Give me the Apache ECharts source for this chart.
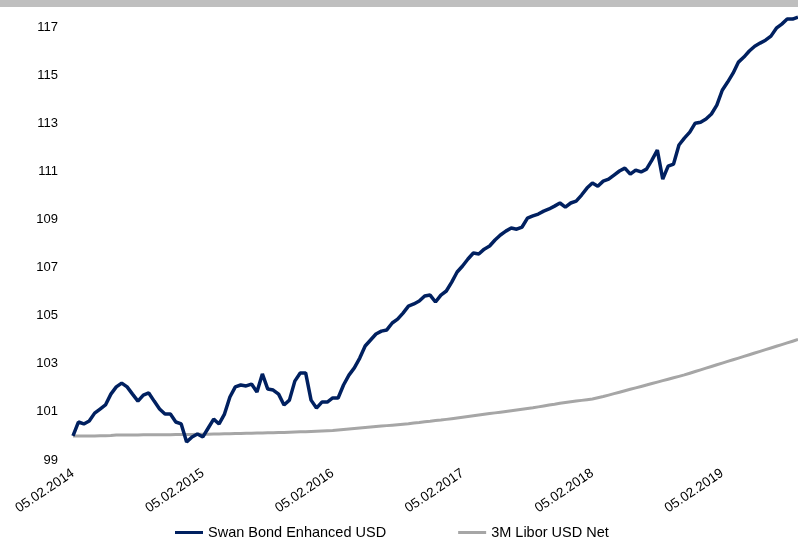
<!DOCTYPE html>
<html>
<head>
<meta charset="utf-8">
<script src="https://cdn.jsdelivr.net/npm/echarts@6/dist/echarts.min.js"></script>
<style>
html,body{margin:0;padding:0;background:#fff;}
#chart{width:798px;height:541px;}
</style>
</head>
<body>
<div id="chart"></div>
<script>
// Tick labels shown on the x axis
var tickLabels = ['05.02.2014','05.02.2015','05.02.2016','05.02.2017','05.02.2018','05.02.2019'];

// Semi-monthly observation dates (5th and 20th of each month), 05.02.2014 .. 05.09.2019
var categories = [];
(function(){
  var y = 2014, m = 2;
  while (categories.length < 135) {
    var mm = (m < 10 ? '0' : '') + m;
    categories.push('05.' + mm + '.' + y);
    if (categories.length < 135) categories.push('20.' + mm + '.' + y);
    m++; if (m > 12) { m = 1; y++; }
  }
})();

var swanBond = [
100.00,100.58,100.50,100.62,100.95,101.12,101.29,101.74,102.04,102.20,
102.04,101.74,101.45,101.70,101.79,101.45,101.12,100.91,100.91,100.58,
100.50,99.75,99.96,100.08,99.96,100.33,100.70,100.50,100.91,101.62,
102.04,102.12,102.08,102.16,101.83,102.58,101.95,101.91,101.74,101.29,
101.49,102.28,102.62,102.62,101.49,101.16,101.41,101.41,101.58,101.58,
102.12,102.53,102.83,103.24,103.74,103.99,104.24,104.36,104.41,104.70,
104.86,105.11,105.40,105.49,105.61,105.82,105.86,105.57,105.86,106.03,
106.40,106.82,107.07,107.36,107.61,107.57,107.77,107.90,108.15,108.36,
108.52,108.65,108.60,108.69,109.06,109.15,109.23,109.35,109.44,109.56,
109.69,109.52,109.69,109.77,110.02,110.31,110.52,110.39,110.60,110.68,
110.85,111.02,111.14,110.89,111.06,110.98,111.10,111.47,111.89,110.68,
111.22,111.31,112.10,112.39,112.64,113.01,113.05,113.18,113.39,113.76,
114.38,114.72,115.09,115.55,115.76,116.01,116.21,116.34,116.46,116.63,
116.96,117.13,117.34,117.34,117.42
];

var libor = [
100.00,100.00,100.00,100.00,100.00,100.01,100.01,100.02,100.04,100.04,
100.04,100.04,100.04,100.05,100.05,100.05,100.05,100.05,100.05,100.06,
100.06,100.06,100.06,100.07,100.07,100.07,100.08,100.08,100.09,100.09,
100.10,100.10,100.11,100.11,100.12,100.12,100.13,100.13,100.14,100.14,
100.15,100.16,100.17,100.18,100.19,100.20,100.21,100.22,100.23,100.25,
100.27,100.29,100.31,100.33,100.35,100.37,100.39,100.41,100.43,100.45,
100.47,100.49,100.51,100.54,100.56,100.59,100.61,100.64,100.66,100.69,
100.72,100.75,100.78,100.81,100.84,100.87,100.90,100.93,100.96,100.99,
101.02,101.05,101.08,101.11,101.14,101.17,101.21,101.25,101.29,101.32,
101.36,101.39,101.42,101.45,101.48,101.51,101.54,101.59,101.64,101.70,
101.76,101.82,101.88,101.94,102.00,102.06,102.12,102.18,102.24,102.30,
102.36,102.42,102.48,102.54,102.61,102.68,102.75,102.82,102.89,102.96,
103.03,103.10,103.17,103.24,103.31,103.38,103.45,103.52,103.59,103.66,
103.73,103.80,103.87,103.94,104.01
];

var chart = echarts.init(document.getElementById('chart'), null, {renderer: 'canvas'});
var font = '"Liberation Sans", Arial, sans-serif';
chart.setOption({
  animation: false,
  backgroundColor: '#ffffff',
  graphic: [{
    type: 'rect', left: 0, top: 0, z: 100,
    shape: {width: 798, height: 7},
    style: {fill: '#bfbfbf'}
  }],
  grid: {left: 73, right: 0, top: 8, bottom: 81, containLabel: false},
  xAxis: {
    type: 'category',
    data: categories,
    boundaryGap: false,
    axisLine: {show: false},
    axisTick: {show: false},
    splitLine: {show: false},
    axisLabel: {
      rotate: 34,
      margin: 12,
      fontSize: 13.5,
      color: '#000',
      fontFamily: font,
      interval: function (idx, val) { return tickLabels.indexOf(val) >= 0; }
    }
  },
  yAxis: {
    type: 'value',
    min: 99,
    max: 117.8,
    interval: 2,
    axisLine: {show: false},
    axisTick: {show: false},
    splitLine: {show: false},
    axisLabel: {
      margin: 15,
      fontSize: 13,
      color: '#000',
      fontFamily: font,
      showMaxLabel: false
    }
  },
  legend: {
    left: 170,
    top: 520,
    itemWidth: 28,
    itemHeight: 3,
    itemGap: 72,
    icon: 'rect',
    textStyle: {fontSize: 14.5, color: '#000', fontFamily: font},
    data: ['Swan Bond Enhanced USD', '3M Libor USD Net']
  },
  series: [
    {
      name: '3M Libor USD Net',
      type: 'line',
      data: libor,
      showSymbol: false,
      lineStyle: {color: '#a6a6a6', width: 3},
      itemStyle: {color: '#a6a6a6'},
      z: 2
    },
    {
      name: 'Swan Bond Enhanced USD',
      type: 'line',
      data: swanBond,
      showSymbol: false,
      lineStyle: {color: '#002060', width: 3.5},
      itemStyle: {color: '#002060'},
      z: 3
    }
  ]
});
</script>
</body>
</html>
